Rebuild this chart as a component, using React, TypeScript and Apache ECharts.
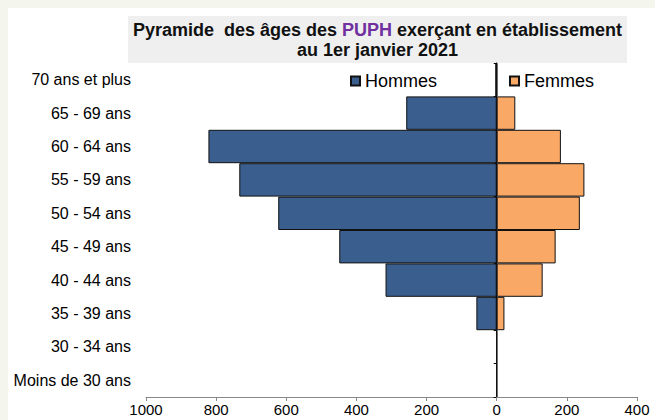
import React, { useEffect, useRef } from 'react';
import * as echarts from 'echarts';

const categories = [
  '70 ans et plus',
  '65 - 69 ans',
  '60 - 64 ans',
  '55 - 59 ans',
  '50 - 54 ans',
  '45 - 49 ans',
  '40 - 44 ans',
  '35 - 39 ans',
  '30 - 34 ans',
  'Moins de 30 ans',
];
const hommes = [4, 258, 822, 734, 623, 449, 317, 58, 0, 0];
const femmes = [1, 53, 183, 250, 237, 168, 131, 22, 0, 0];
const xMin = -1000;
const xMax = 400;
const xInterval = 200;

const FONT = "'Liberation Sans', Arial, sans-serif";

export default function App() {
  const ref = useRef<HTMLDivElement>(null);
  useEffect(() => {
    if (!ref.current) return;
    const chart = echarts.init(ref.current, undefined, { renderer: 'svg' });
    const legendText = { fontSize: 18, color: '#000', fontFamily: FONT };
    chart.setOption({
      animation: false,
      backgroundColor: 'transparent',
      graphic: [
        { type: 'rect', z: -10, shape: { x: 8, y: 8, width: 660, height: 420 }, style: { fill: '#ffffff' } },
        { type: 'rect', z: -9, shape: { x: 128, y: 16, width: 499, height: 47 }, style: { fill: '#efefef' } },
        {
          type: 'text',
          z: 5,
          x: 377.5,
          y: 20,
          style: {
            text: 'Pyramide  des âges des {p|PUPH} exerçant en établissement\nau 1er janvier 2021',
            align: 'center',
            verticalAlign: 'top',
            fill: '#111',
            fontSize: 18,
            fontWeight: 'bold',
            fontFamily: FONT,
            lineHeight: 20,
            rich: {
              p: { fill: '#7030a0', fontSize: 18, fontWeight: 'bold', fontFamily: FONT, lineHeight: 20 },
            },
          },
        },
      ],
      legend: [
        {
          data: ['Hommes'], left: 350, top: 72, padding: 0, itemWidth: 9, itemHeight: 9,
          icon: 'rect', textStyle: legendText,
        },
        {
          data: ['Femmes'], left: 509, top: 72, padding: 0, itemWidth: 9, itemHeight: 9,
          icon: 'rect', textStyle: legendText,
        },
      ],
      grid: { left: 146, right: 18, top: 63, bottom: 23 },
      xAxis: {
        type: 'value',
        min: xMin,
        max: xMax,
        interval: xInterval,
        splitLine: { show: false },
        axisLine: { show: true, lineStyle: { color: '#888', width: 1 } },
        axisTick: { show: true, length: 4, lineStyle: { color: '#888' } },
        axisLabel: {
          fontSize: 15, color: '#000', fontFamily: FONT, margin: 5,
          formatter: (v: number) => String(Math.abs(v)),
        },
      },
      yAxis: [
        {
          type: 'category',
          data: categories,
          inverse: true,
          axisLine: { show: false, onZero: false },
          axisTick: { show: false },
          axisLabel: { fontSize: 16, color: '#000', fontFamily: FONT, margin: 15 },
        },
        {
          type: 'category',
          data: categories,
          inverse: true,
          position: 'left',
          axisLine: { show: true, onZero: true, lineStyle: { color: '#000', width: 1 } },
          axisTick: { show: true, length: 3, lineStyle: { color: '#000' } },
          axisLabel: { show: false },
        },
      ],
      series: [
        {
          name: 'Hommes',
          type: 'bar',
          stack: 'pyr',
          barCategoryGap: '0%',
          data: hommes.map((v) => -v),
          itemStyle: { color: '#3a5f8e', borderColor: '#111', borderWidth: 1 },
        },
        {
          name: 'Femmes',
          type: 'bar',
          stack: 'pyr',
          barCategoryGap: '0%',
          data: femmes,
          itemStyle: { color: '#f9a866', borderColor: '#111', borderWidth: 1 },
        },
      ],
    });
    return () => chart.dispose();
  }, []);
  return (
    <div style={{ position: 'fixed', left: 0, top: 0, width: 655, height: 420, background: '#f4f6ee' }}>
      <div ref={ref} style={{ width: 655, height: 420 }} />
    </div>
  );
}
